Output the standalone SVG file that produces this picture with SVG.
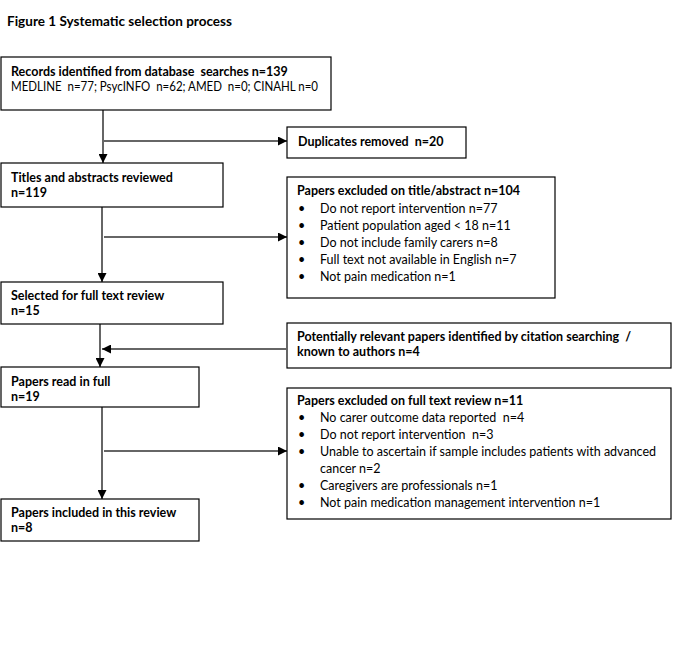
<svg xmlns="http://www.w3.org/2000/svg" width="680" height="670" viewBox="0 0 680 670">
<defs>
<marker id="ah" viewBox="0 0 10 10" refX="10" refY="5" markerWidth="9" markerHeight="9" markerUnits="userSpaceOnUse" orient="auto">
<path d="M0,0 L10,5 L0,10 z" fill="#000"/>
</marker>
<style>
text{font-family:Lato,"Liberation Sans",sans-serif;font-size:12.5px;fill:#000;white-space:pre}
.b{font-weight:bold}
.box{fill:#fff;stroke:#000;stroke-width:1.2}
.ln{stroke:#666;stroke-width:2;fill:none}
</style>
</defs>
<rect width="680" height="670" fill="#fff"/>
<text x="7" y="26" class="b" style="font-size:13.5px" textLength="225">Figure 1 Systematic selection process</text>
<g id="connectors">
<line class="ln" x1="103" y1="110" x2="103" y2="163" marker-end="url(#ah)"/>
<line class="ln" x1="104" y1="141" x2="287" y2="141" marker-end="url(#ah)"/>
<line class="ln" x1="102" y1="207" x2="102" y2="282" marker-end="url(#ah)"/>
<line class="ln" x1="104" y1="237" x2="287" y2="237" marker-end="url(#ah)"/>
<line class="ln" x1="100" y1="324" x2="100" y2="367" marker-end="url(#ah)"/>
<line class="ln" x1="286" y1="349" x2="102" y2="349" marker-end="url(#ah)"/>
<line class="ln" x1="102" y1="407" x2="102" y2="499" marker-end="url(#ah)"/>
<line class="ln" x1="104" y1="451" x2="287" y2="451" marker-end="url(#ah)"/>
</g>
<g id="records">
<rect class="box" x="1" y="57" width="330" height="53"/>
<text x="11" y="76" class="b">Records identified from database  searches n=139</text>
<text x="11" y="91" textLength="307" lengthAdjust="spacingAndGlyphs">MEDLINE  n=77; PsycINFO  n=62; AMED  n=0; CINAHL n=0</text>
</g>
<g id="duplicates">
<rect class="box" x="287" y="127" width="179" height="31"/>
<text x="298" y="146" class="b">Duplicates removed  n=20</text>
</g>
<g id="titles">
<rect class="box" x="1" y="163" width="222" height="44"/>
<text x="11" y="182" class="b">Titles and abstracts reviewed</text>
<text x="11" y="197" class="b">n=119</text>
</g>
<g id="excluded1">
<rect class="box" x="287" y="177" width="268" height="121"/>
<text x="297" y="195" class="b">Papers excluded on title/abstract n=104</text>
<text x="298" y="213">•</text><text x="320" y="213">Do not report intervention n=77</text>
<text x="298" y="230">•</text><text x="320" y="230">Patient population aged &lt; 18 n=11</text>
<text x="298" y="247">•</text><text x="320" y="247">Do not include family carers n=8</text>
<text x="298" y="264">•</text><text x="320" y="264">Full text not available in English n=7</text>
<text x="298" y="281">•</text><text x="320" y="281">Not pain medication n=1</text>
</g>
<g id="selected">
<rect class="box" x="1" y="282" width="222" height="42"/>
<text x="11" y="300" class="b">Selected for full text review</text>
<text x="11" y="315" class="b">n=15</text>
</g>
<g id="potential">
<rect class="box" x="287" y="323" width="384" height="45"/>
<text x="297" y="341" class="b">Potentially relevant papers identified by citation searching  /</text>
<text x="297" y="356" class="b">known to authors n=4</text>
</g>
<g id="readfull">
<rect class="box" x="1" y="367" width="198" height="40"/>
<text x="11" y="386" class="b">Papers read in full</text>
<text x="11" y="401" class="b">n=19</text>
</g>
<g id="excluded2">
<rect class="box" x="287" y="388" width="384" height="131"/>
<text x="297" y="405" class="b">Papers excluded on full text review n=11</text>
<text x="298" y="422">•</text><text x="320" y="422">No carer outcome data reported  n=4</text>
<text x="298" y="439">•</text><text x="320" y="439">Do not report intervention  n=3</text>
<text x="298" y="456">•</text><text x="320" y="456">Unable to ascertain if sample includes patients with advanced</text>
<text x="320" y="473">cancer n=2</text>
<text x="298" y="490">•</text><text x="320" y="490">Caregivers are professionals n=1</text>
<text x="298" y="507">•</text><text x="320" y="507">Not pain medication management intervention n=1</text>
</g>
<g id="included">
<rect class="box" x="1" y="499" width="198" height="42"/>
<text x="11" y="517" class="b">Papers included in this review</text>
<text x="11" y="532" class="b">n=8</text>
</g>
</svg>
